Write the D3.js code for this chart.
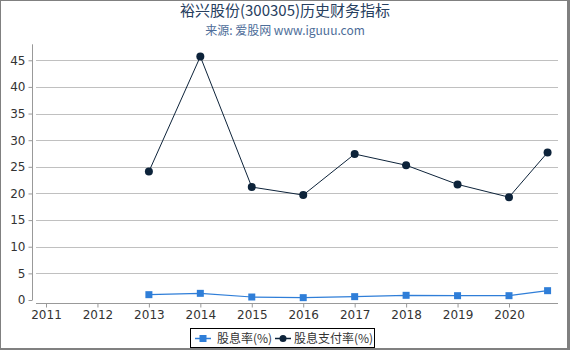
<!DOCTYPE html>
<html>
<head>
<meta charset="utf-8">
<script src="https://cdn.jsdelivr.net/npm/d3@7"></script>
<style>
  body { margin: 0; background: #fff; }
  svg { display: block; font-family: "DejaVu Sans", "Noto Sans CJK SC", sans-serif; }
</style>
</head>
<body>
<svg></svg>
<script>
// Data
const years = [2013, 2014, 2015, 2016, 2017, 2018, 2019, 2020, 2020.75];
const dividendYield = [1.0, 1.25, 0.56, 0.44, 0.63, 0.88, 0.81, 0.81, 1.75];
const payoutRatio = [24.1, 45.7, 21.2, 19.7, 27.4, 25.3, 21.7, 19.3, 27.7];
const xTicks = [2011, 2012, 2013, 2014, 2015, 2016, 2017, 2018, 2019, 2020];
const yTicks = [0, 5, 10, 15, 20, 25, 30, 35, 40, 45];
const seriesNames = ["股息率(%)", "股息支付率(%)"];

const width = 570;
const height = 350;
const plot = { left: 36, right: 558, top: 44.3, bottom: 300 };

const svg = d3.select("svg").attr("width", width).attr("height", height);

// Outer frame with heavier right/bottom edge
svg.append("rect").attr("x", 0).attr("y", 0).attr("width", width).attr("height", height).attr("fill", "#808080");
svg.append("rect").attr("x", 1).attr("y", 1).attr("width", width - 4).attr("height", height - 3).attr("fill", "#fff");

// Titles
svg.append("text")
  .attr("x", 285).attr("y", 16)
  .attr("text-anchor", "middle")
  .attr("fill", "#274060")
  .style("font-size", "15px")
  .style("font-family", "Noto Sans CJK SC")
  .text("裕兴股份(300305)历史财务指标");

svg.append("text")
  .attr("x", 285).attr("y", 34.5)
  .attr("text-anchor", "middle")
  .attr("fill", "#4d6d99")
  .style("font-size", "12px")
  .style("font-family", "Noto Sans CJK SC")
  .text("来源: 爱股网 www.iguuu.com");

// Scales
const x = d3.scaleLinear().domain([2011, 2020]).range([46, 509]);
const y = d3.scaleLinear().domain([0, 48]).range([plot.bottom, plot.top]);

// Grid lines
svg.append("g")
  .selectAll("line")
  .data(yTicks.filter(d => d > 0))
  .join("line")
  .attr("x1", plot.left).attr("x2", plot.right)
  .attr("y1", d => Math.round(y(d)) + 0.5).attr("y2", d => Math.round(y(d)) + 0.5)
  .attr("stroke", "#c0c0c0");

// Y axis (set a few px left of the plot)
const yAxis = svg.append("g")
  .attr("transform", `translate(32.5,0)`)
  .call(d3.axisLeft(y).tickValues(yTicks).tickSize(4).tickPadding(3).tickSizeOuter(0));
yAxis.select(".domain").attr("d", `M0,${plot.top}V${plot.bottom}`);

// X axis (set a few px below the plot)
const xAxis = svg.append("g")
  .attr("transform", `translate(0,303.5)`)
  .call(d3.axisBottom(x).tickValues(xTicks).tickFormat(d3.format("d")).tickSize(4).tickPadding(3).tickSizeOuter(0));
xAxis.select(".domain").attr("d", `M${plot.left},0H${plot.right}`);

svg.selectAll(".domain").attr("stroke", "#999");
svg.selectAll(".tick line").attr("stroke", "#999");
svg.selectAll(".tick text").attr("fill", "#333").style("font-size", "12px").style("font-family", "DejaVu Sans");

// Lines
const line = d3.line().x((d, i) => x(years[i])).y(d => y(d));

svg.append("path")
  .datum(payoutRatio)
  .attr("fill", "none")
  .attr("stroke", "#0d233a")
  .attr("stroke-width", 1)
  .attr("d", line);

svg.append("path")
  .datum(dividendYield)
  .attr("fill", "none")
  .attr("stroke", "#2f7ed8")
  .attr("stroke-width", 1.2)
  .attr("d", line);

// Markers
svg.append("g")
  .selectAll("circle")
  .data(payoutRatio)
  .join("circle")
  .attr("cx", (d, i) => x(years[i]))
  .attr("cy", d => y(d))
  .attr("r", 4)
  .attr("fill", "#0d233a");

svg.append("g")
  .selectAll("rect")
  .data(dividendYield)
  .join("rect")
  .attr("x", (d, i) => x(years[i]) - 3.5)
  .attr("y", d => y(d) - 3.5)
  .attr("width", 7)
  .attr("height", 7)
  .attr("fill", "#2f7ed8");

// Legend
const legend = svg.append("g");
legend.append("rect")
  .attr("x", 190.5).attr("y", 328.5)
  .attr("width", 184).attr("height", 19)
  .attr("fill", "#fff")
  .attr("stroke", "#000");

const legendItems = [
  { name: seriesNames[0], color: "#2f7ed8", shape: "square", x0: 195, tx: 217 },
  { name: seriesNames[1], color: "#0d233a", shape: "circle", x0: 275, tx: 294 }
];
legendItems.forEach(it => {
  legend.append("line")
    .attr("x1", it.x0).attr("x2", it.x0 + 16)
    .attr("y1", 338.5).attr("y2", 338.5)
    .attr("stroke", it.color).attr("stroke-width", 1.5);
  if (it.shape === "square") {
    legend.append("rect").attr("x", it.x0 + 4.5).attr("y", 335).attr("width", 7).attr("height", 7).attr("fill", it.color);
  } else {
    legend.append("circle").attr("cx", it.x0 + 8).attr("cy", 338.5).attr("r", 3.5).attr("fill", it.color);
  }
  legend.append("text")
    .attr("x", it.tx).attr("y", 343)
    .attr("fill", "#333")
    .style("font-size", "12px")
    .style("font-family", "Noto Sans CJK SC")
    .text(it.name);
});
</script>
</body>
</html>
